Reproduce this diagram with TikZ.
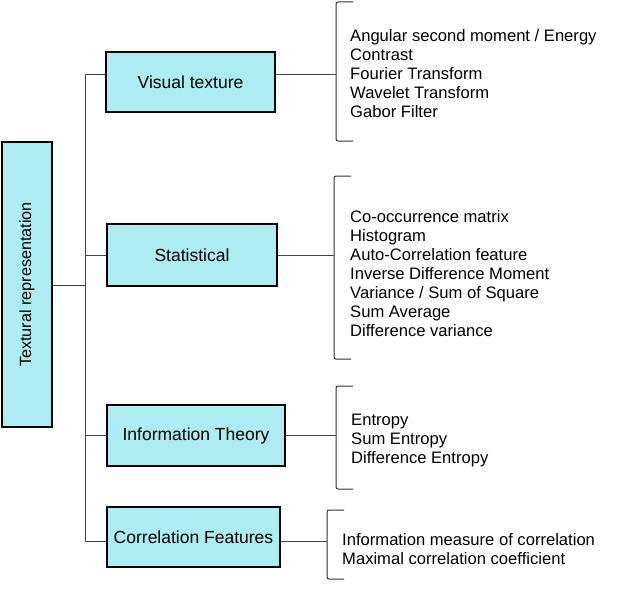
\documentclass[tikz,border=0pt]{standalone}
\usepackage{fontspec}
\setmainfont{Liberation Sans}
\usetikzlibrary{positioning}
\definecolor{boxcyan}{RGB}{172,236,242}
\definecolor{linegray}{RGB}{70,70,70}

\begin{document}
\begin{tikzpicture}[x=1pt, y=-1pt,
  catbox/.style={draw=black, line width=1.6pt, fill=boxcyan, inner sep=0pt,
    font=\fontsize{17.5}{20}\selectfont},
  featlist/.style={anchor=west, align=left, inner sep=0pt,
    font=\fontsize{16.6}{19}\selectfont},
  link/.style={draw=linegray, line width=1pt},
  bracket/.style={draw=black!80, line width=1pt, rounded corners=2pt}]
\useasboundingbox (0,0) rectangle (644,594);

% root and categories
\node[catbox, rotate=90, minimum width=285pt, minimum height=50pt, font=\fontsize{16.2}{19}\selectfont] (box_root) at (27,284.5) {Textural representation};
\node[catbox, minimum width=169pt, minimum height=60pt] (box_vis) at (190.5,82) {Visual texture};
\node[catbox, minimum width=170pt, minimum height=62pt] (box_stat) at (192,255) {Statistical};
\node[catbox, minimum width=178pt, minimum height=61pt] (box_info) at (196,435.5) {Information Theory};
\node[catbox, minimum width=173pt, minimum height=60pt] (box_corr) at (193.5,537) {Correlation Features};

% trunk junctions
\coordinate (j_root) at (85,285);
\coordinate (j_vis) at (85,74);
\coordinate (j_stat) at (85,255);
\coordinate (j_info) at (85,435);
\coordinate (j_corr) at (85,541);
\draw[link] (j_vis) -- (j_corr);
\draw[link] (box_root.south |- j_root) -- (j_root);
\draw[link] (j_vis) -- (j_vis -| box_vis.west);
\draw[link] (j_stat) -- (j_stat -| box_stat.west);
\draw[link] (j_info) -- (j_info -| box_info.west);
\draw[link] (j_corr) -- (j_corr -| box_corr.west);

% brackets
\coordinate (b_vis) at (336,74);
\coordinate (b_stat) at (334,255);
\coordinate (b_info) at (336,435);
\coordinate (b_corr) at (327,541);
\draw[bracket] (353,2) -- (336,2) -- (336,141) -- (353,141);
\draw[bracket] (351,176) -- (334,176) -- (334,359) -- (351,359);
\draw[bracket] (353,386) -- (336,386) -- (336,489) -- (353,489);
\draw[bracket] (344,510) -- (327,510) -- (327,579) -- (344,579);
\draw[link] (box_vis.east |- b_vis) -- (b_vis);
\draw[link] (box_stat.east |- b_stat) -- (b_stat);
\draw[link] (box_info.east |- b_info) -- (b_info);
\draw[link] (box_corr.east |- b_corr) -- (b_corr);

% feature lists
\node[featlist] (list_vis) at (350,74) {Angular second moment / Energy\\Contrast\\Fourier Transform\\Wavelet Transform\\Gabor Filter};
\node[featlist] (list_stat) at (350,274) {Co-occurrence matrix\\Histogram\\Auto-Correlation feature\\Inverse Difference Moment\\Variance / Sum of Square\\Sum Average\\Difference variance};
\node[featlist] (list_info) at (351,441) {Entropy\\Sum Entropy\\Difference Entropy};
\node[featlist] (list_corr) at (342,549.5) {Information measure of correlation\\Maximal correlation coefficient};
\end{tikzpicture}
\end{document}
